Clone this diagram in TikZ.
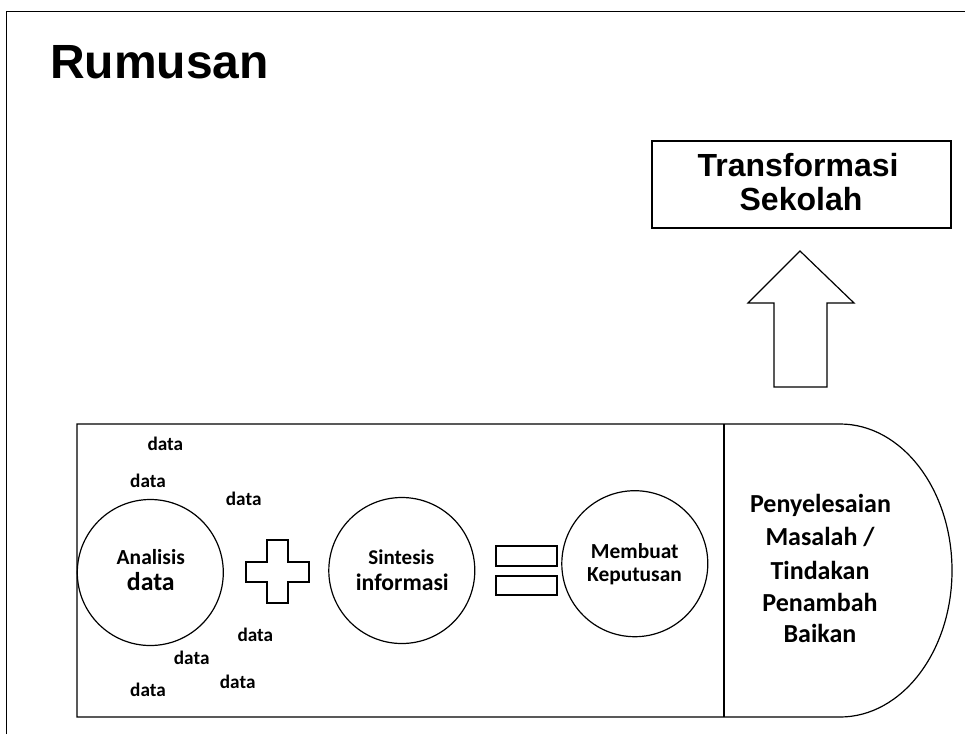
\documentclass[tikz,border=0pt]{standalone}
\usepackage{fontspec}
\setmainfont{Carlito}
\newfontfamily\arialf{Liberation Sans}
\tikzset{
  shapeline/.style={draw=black, line width=1.2pt},
  lbl/.style={inner sep=0pt, anchor=base, font=\bfseries\fontsize{19.2}{24}\selectfont},
  ring/.style={shapeline, circle, minimum size=146pt, inner sep=0pt},
}
\begin{document}
\begin{tikzpicture}[x=1pt,y=-1pt]
\useasboundingbox (0,0) rectangle (965,734);
\fill[white] (0,0) rectangle (965,734);
% frame
\draw[line width=1.8pt] (6.5,734) -- (6.5,11.5) -- (965,11.5);
% title
\node[inner sep=0pt, anchor=base west, font=\arialf\bfseries\fontsize{48}{52}\selectfont] (title) at (50,78) {Rumusan};
% Transformasi box
\node[shapeline, rectangle, minimum width=299pt, minimum height=87pt, inner sep=0pt] (tbox) at (801.5,184.5) {};
\node[inner sep=0pt, anchor=base, font=\arialf\bfseries\fontsize{32}{34}\selectfont] (t1) at (798,176.7) {Transformasi};
\node[inner sep=0pt, anchor=base, font=\arialf\bfseries\fontsize{32}{34}\selectfont] (t2) at (801,210.7) {Sekolah};
% block arrow
\draw[shapeline, line join=miter] (774,387) -- (774,303) -- (748,303) -- (800,251) -- (854,303) -- (827,303) -- (827,387) -- cycle;
% bottom shape
\draw[shapeline] (77,424) -- (840,424) arc[start angle=-90, end angle=90, x radius=112, y radius=146.5] -- (77,717) -- cycle;
\draw[shapeline] (724,424) -- (724,717);
% circles
\node[ring] (c1) at (150.3,572.5) {};
\node[ring] (c2) at (401.8,570.5) {};
\node[ring] (c3) at (634.8,563.7) {};
% plus
\draw[shapeline] (267,540) -- (288,540) -- (288,562) -- (309,562) -- (309,582) -- (288,582) -- (288,603) -- (267,603) -- (267,582) -- (246,582) -- (246,562) -- (267,562) -- cycle;
% equals
\draw[shapeline] (496,546) rectangle (557,566);
\draw[shapeline] (496,576) rectangle (557,595);
% circle texts
\node[lbl, font=\bfseries\fontsize{21.5}{24}\selectfont] (a1) at (150.8,564) {Analisis};
\node[lbl, font=\bfseries\fontsize{25.8}{28}\selectfont] (a2) at (150.8,590.7) {data};
\node[lbl, font=\bfseries\fontsize{21}{24}\selectfont] (s1) at (401.3,564) {Sintesis};
\node[lbl, font=\bfseries\fontsize{23.7}{26}\selectfont] (s2) at (402.3,590) {informasi};
\node[lbl, font=\bfseries\fontsize{21.4}{24}\selectfont] (m1) at (634.8,558.3) {Membuat};
\node[lbl, font=\bfseries\fontsize{21.4}{24}\selectfont] (m2) at (634.5,581.7) {Keputusan};
% data labels
\node[lbl] (d1) at (165.3,450.7) {data};
\node[lbl] (d2) at (148,487.3) {data};
\node[lbl] (d3) at (243.7,505) {data};
\node[lbl] (d4) at (255.3,641.7) {data};
\node[lbl] (d5) at (191.7,664) {data};
\node[lbl] (d6) at (237.7,688.3) {data};
\node[lbl] (d7) at (148,696.7) {data};
% right text
\node[lbl, font=\bfseries\fontsize{26}{28}\selectfont] (p1) at (820.5,512.7) {Penyelesaian};
\node[lbl, font=\bfseries\fontsize{26}{28}\selectfont] (p2) at (820,545.7) {Masalah /};
\node[lbl, font=\bfseries\fontsize{26}{28}\selectfont] (p3) at (820,579) {Tindakan};
\node[lbl, font=\bfseries\fontsize{26}{28}\selectfont] (p4) at (820,611) {Penambah};
\node[lbl, font=\bfseries\fontsize{26}{28}\selectfont] (p5) at (820,642.3) {Baikan};
\end{tikzpicture}
\end{document}
